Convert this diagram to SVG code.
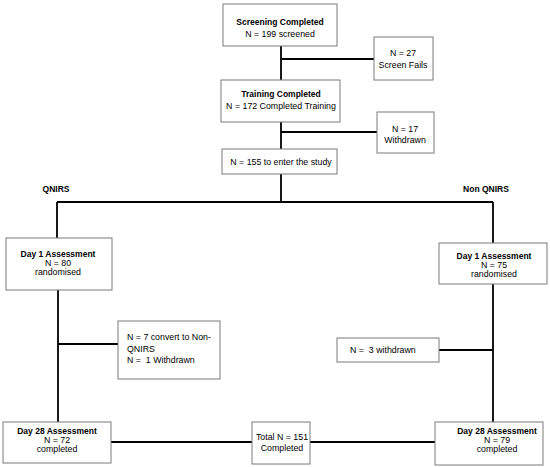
<svg xmlns="http://www.w3.org/2000/svg" width="550" height="467" viewBox="0 0 550 467">
<style>
.box{fill:#fff;stroke:#7a7a7a;stroke-width:1}
.ln{stroke:#000;stroke-width:1.8;fill:none}
text{font-family:"Liberation Sans",Arial,sans-serif;font-size:8.8px;fill:#000}
.b{font-weight:bold;font-size:8.5px}
.c{text-anchor:middle}
</style>
<rect width="550" height="467" fill="#fff"/>
<g id="connectors">
<path class="ln" d="M281,46V80M281,59H374"/>
<path class="ln" d="M281,122V149M281,132H377"/>
<path class="ln" d="M281,174V202M57,202H493M57,202V238M493,202V243"/>
<path class="ln" d="M58,290V422M58,344H118"/>
<path class="ln" d="M493,284V422M439,350H493"/>
<path class="ln" d="M111,442H252M310,442H435"/>
</g>
<g id="screening">
<rect class="box" x="223" y="4" width="114" height="42"/>
<text class="b c" x="280" y="25">Screening Completed</text>
<text class="c" x="280" y="37">N = 199 screened</text>
</g>
<g id="screenfails">
<rect class="box" x="374" y="37" width="59" height="43"/>
<text class="c" x="403" y="56">N = 27</text>
<text class="c" x="403" y="68">Screen Fails</text>
</g>
<g id="training">
<rect class="box" x="221" y="80" width="119" height="42"/>
<text class="b c" x="281" y="97">Training Completed</text>
<text class="c" x="281" y="109">N = 172 Completed Training</text>
</g>
<g id="withdrawn17">
<rect class="box" x="377" y="112" width="57" height="41"/>
<text class="c" x="405" y="132">N = 17</text>
<text class="c" x="405" y="143">Withdrawn</text>
</g>
<g id="enter">
<rect class="box" x="222" y="149" width="115" height="25"/>
<text class="c" x="281" y="165">N = 155 to enter the study</text>
</g>
<g id="labels">
<text class="b c" x="56" y="192">QNIRS</text>
<text class="b c" x="486" y="192">Non QNIRS</text>
</g>
<g id="day1q">
<rect class="box" x="6" y="238" width="106" height="52"/>
<text class="b c" x="58" y="257">Day 1 Assessment</text>
<text class="c" x="58" y="266">N = 80</text>
<text class="c" x="58" y="275">randomised</text>
</g>
<g id="day1n">
<rect class="box" x="439" y="243" width="108" height="41"/>
<text class="b c" x="494" y="259">Day 1 Assessment</text>
<text class="c" x="494" y="268">N = 75</text>
<text class="c" x="494" y="277">randomised</text>
</g>
<g id="convert">
<rect class="box" x="118" y="321" width="102" height="58"/>
<text x="127" y="340">N = 7 convert to Non-</text>
<text x="127" y="352">QNIRS</text>
<text x="127" y="363" xml:space="preserve">N =  1 Withdrawn</text>
</g>
<g id="withdrawn3">
<rect class="box" x="337" y="338" width="102" height="24"/>
<text x="350" y="353" xml:space="preserve">N =  3 withdrawn</text>
</g>
<g id="day28q">
<rect class="box" x="3" y="422" width="108" height="41"/>
<text class="b c" x="57" y="434">Day 28 Assessment</text>
<text class="c" x="57" y="443">N = 72</text>
<text class="c" x="57" y="452">completed</text>
</g>
<g id="total">
<rect class="box" x="252" y="422" width="58" height="42"/>
<text class="c" x="282" y="440">Total N = 151</text>
<text class="c" x="282" y="451">Completed</text>
</g>
<g id="day28n">
<rect class="box" x="435" y="422" width="108" height="43"/>
<text class="b c" x="497" y="434">Day 28 Assessment</text>
<text class="c" x="497" y="443">N = 79</text>
<text class="c" x="497" y="452">completed</text>
</g>
</svg>
